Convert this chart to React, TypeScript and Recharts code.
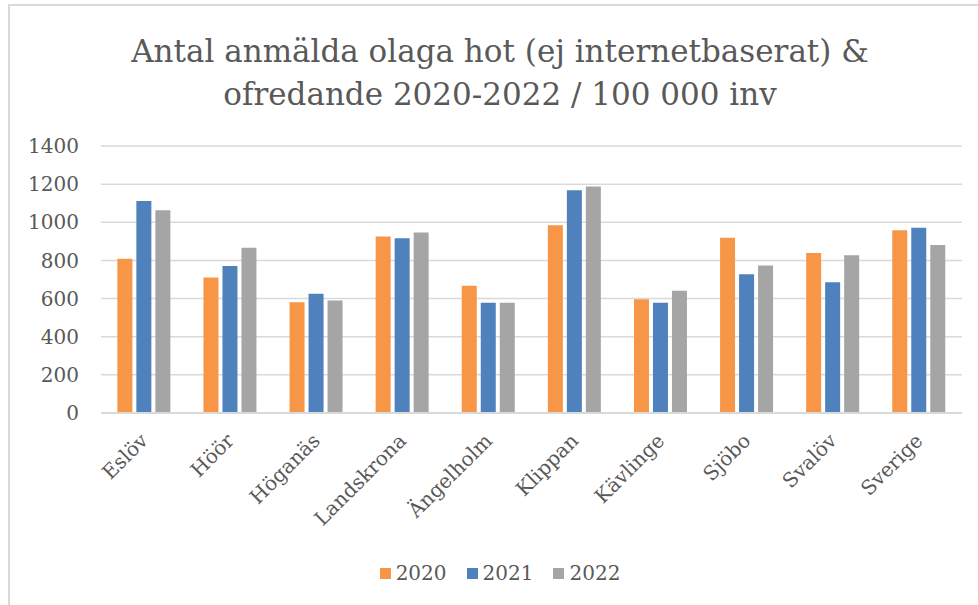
import { BarChart, Bar, XAxis, YAxis, CartesianGrid, Legend } from 'recharts';

// Municipalities (x categories)
const kommuner = ['Eslöv', 'Höör', 'Höganäs', 'Landskrona', 'Ängelholm', 'Klippan', 'Kävlinge', 'Sjöbo', 'Svalöv', 'Sverige'];

// Reported threats & harassment per 100 000 inhabitants
const v2020 = [809, 711, 581, 925, 667, 984, 597, 919, 839, 958];
const v2021 = [1112, 771, 625, 916, 578, 1168, 578, 727, 685, 972];
const v2022 = [1063, 867, 590, 947, 578, 1187, 641, 774, 827, 881];

const yTicks = [0, 200, 400, 600, 800, 1000, 1200, 1400];

const years = ['2020', '2021', '2022'];
const COLORS = ['#F79646', '#4F81BD', '#A5A5A5'];

const data = kommuner.map((name, i) => ({ name, '2020': v2020[i], '2021': v2021[i], '2022': v2022[i] }));

const FONT = '"DejaVu Serif", serif';
const TEXT = '#595959';

function AngledTick({ x, y, payload }: any) {
    const ax = x + 5;
    const ay = y + 21;
    return (
        <text
            x={ax}
            y={ay}
            transform={`rotate(-45, ${ax}, ${ay})`}
            textAnchor="end"
            fontFamily={FONT}
            fontSize={20}
            fill={TEXT}
        >
            {payload.value}
        </text>
    );
}

function YearLegend() {
    return (
        <div style={{ display: 'flex', justifyContent: 'center', gap: 20, fontFamily: FONT, fontSize: 20, color: TEXT }}>
            {years.map((y, i) => (
                <div key={y} style={{ display: 'flex', alignItems: 'center', gap: 5 }}>
                    <span style={{ width: 11, height: 11, background: COLORS[i], display: 'inline-block' }} />
                    <span>{y}</span>
                </div>
            ))}
        </div>
    );
}

export default function App() {
    return (
        <div style={{ position: 'absolute', left: 0, top: 0, width: 978, height: 605, background: '#fff', overflow: 'hidden' }}>
            <div style={{ position: 'absolute', left: 8, top: 4, width: 1200, height: 800, borderLeft: '2px solid #d9d9d9', borderTop: '2px solid #d9d9d9' }} />
            <div style={{ position: 'absolute', left: 0, top: 30, width: 1000, textAlign: 'center', fontFamily: FONT, fontSize: 31, lineHeight: '43px', color: TEXT }}>
                Antal anmälda olaga hot (ej internetbaserat) &amp;<br />ofredande 2020-2022 / 100 000 inv
            </div>
            <BarChart
                width={978}
                height={605}
                data={data}
                margin={{ top: 146, right: 16, bottom: 0, left: 21 }}
                barCategoryGap="19%"
                barGap={4}
                style={{ position: 'absolute', left: 0, top: 0 }}
            >
                <CartesianGrid vertical={false} stroke="#d9d9d9" strokeWidth={1.5} />
                <XAxis
                    dataKey="name"
                    interval={0}
                    height={168}
                    tickLine={false}
                    axisLine={{ stroke: '#d9d9d9', strokeWidth: 2 }}
                    tick={<AngledTick />}
                />
                <YAxis
                    domain={[0, 1400]}
                    ticks={yTicks}
                    width={80}
                    axisLine={false}
                    tickLine={false}
                    tickMargin={16}
                    tick={{ fontFamily: FONT, fontSize: 20, fill: TEXT }}
                />
                <Legend content={<YearLegend />} wrapperStyle={{ position: 'absolute', top: 561, left: 0, width: 1000 }} />
                {years.map((y, i) => (
                    <Bar key={y} dataKey={y} fill={COLORS[i]} isAnimationActive={false} />
                ))}
            </BarChart>
        </div>
    );
}
